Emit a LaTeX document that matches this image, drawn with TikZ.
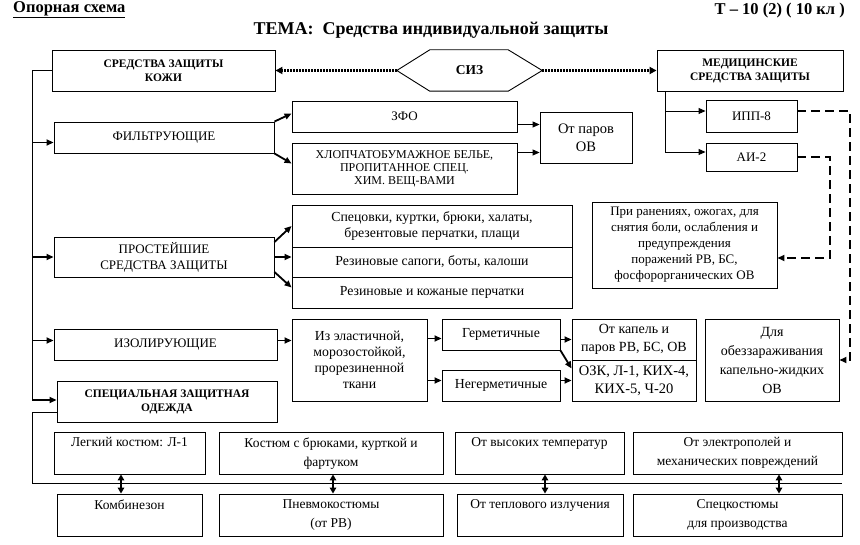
\documentclass[tikz,border=0pt]{standalone}
\usepackage{fontspec}
\setmainfont{Liberation Serif}
\usetikzlibrary{arrows.meta}
\newcommand\fs[2]{\fontsize{#1}{#2}\selectfont}
\newcommand\tp[2]{\parbox[c][31pt][t]{#1pt}{\centering #2}}
\tikzset{
  box/.style={draw, line width=0.9pt, inner sep=1pt, align=center, font=\fs{13.8}{16}},
  ubox/.style={box, font=\fs{13}{16}},
  bbox/.style={box, font=\bfseries\fs{11.5}{14}},
  lbox/.style={box, font=\fs{13.5}{19}},
  thinline/.style={line width=0.9pt},
  arr/.style={line width=1.8pt, -{Triangle[length=7pt,width=6pt]}},
  arrthin/.style={line width=0.9pt, -{Triangle[length=7pt,width=6pt]}},
  darr/.style={line width=1.8pt, {Triangle[length=6pt,width=6.5pt]}-{Triangle[length=6pt,width=6.5pt]}},
  dotarr/.style={line width=2.2pt, dash pattern=on 1.6pt off 1.4pt, -{Triangle[length=7pt,width=7pt]}},
  dasharr/.style={line width=2.4pt, dash pattern=on 9pt off 5pt, -{Triangle[length=7pt,width=6pt]}},
}
% [opts]{name}{x1}{y1}{x2}{y2}{text}
\newcommand\bx[7][]{\node[box,minimum width={#5pt-#3pt},minimum height={#6pt-#4pt},#1] (#2) at ({(#3+#5)/2},{(#4+#6)/2}) {#7};}
\begin{document}
\begin{tikzpicture}[x=1pt,y=-1pt]
\useasboundingbox (0,0) rectangle (860,545);
% titles
\node[font=\bfseries\fs{16.5}{18}, anchor=west, inner sep=0] (op) at (13,10) {\underline{Опорная схема}};
\node[font=\bfseries\fs{18}{20}, inner sep=0] (tema) at (431,30) {ТЕМА:\ \ Средства индивидуальной защиты};
\node[font=\bfseries\fs{16.5}{18}, anchor=east, inner sep=0] (t10) at (845,11) {Т – 10 (2) ( 10 кл )};

% top row
\bx[bbox]{kozhi}{52}{50}{275}{91}{СРЕДСТВА ЗАЩИТЫ\\КОЖИ}
\bx[bbox]{med}{657}{50}{843}{91}{МЕДИЦИНСКИЕ\\СРЕДСТВА ЗАЩИТЫ}
\node[minimum width=145pt, minimum height=41pt, inner sep=0, font=\bfseries\fs{13.5}{16}] (siz) at (469.5,70.5) {СИЗ};
\draw[thinline] (siz.west) -- ([xshift=33pt]siz.north west) -- ([xshift=-34pt]siz.north east) -- (siz.east) -- ([xshift=-34pt]siz.south east) -- ([xshift=33pt]siz.south west) -- cycle;
\draw[dotarr] (siz.west) -- (kozhi.east);
\draw[dotarr] (siz.east) -- (med.west);

% left column
\bx[ubox]{filt}{54}{122}{274}{153}{ФИЛЬТРУЮЩИЕ}
\bx[ubox]{prost}{54}{237}{274}{277}{ПРОСТЕЙШИЕ\\СРЕДСТВА ЗАЩИТЫ}
\bx[ubox]{izol}{54}{329}{277}{360}{ИЗОЛИРУЮЩИЕ}
\bx[bbox]{spec}{57}{381}{277}{422}{СПЕЦИАЛЬНАЯ ЗАЩИТНАЯ\\ОДЕЖДА}

% filtering
\bx[ubox]{zfo}{292}{101}{517}{132}{ЗФО}
\bx[font=\fs{12}{13}]{hlop}{292}{143}{517}{194}{ХЛОПЧАТОБУМАЖНОЕ БЕЛЬЕ,\\ПРОПИТАННОЕ СПЕЦ.\\ХИМ. ВЕЩ-ВАМИ}
\bx[font=\fs{14.5}{18}]{para}{540}{112}{632}{163}{От паров\\ОВ}

% medical
\bx[ubox]{ipp}{706}{100}{797}{132}{ИПП-8}
\bx[ubox]{ai}{706}{143}{797}{171}{АИ-2}
\bx[font=\fs{13}{16}]{pri}{592}{202}{777}{288}{При ранениях, ожогах, для\\снятия боли, ослабления и\\предупреждения\\поражений РВ, БС,\\фосфорорганических ОВ}

% simplest
\bx{simpa}{292}{205}{572}{247}{Спецовки, куртки, брюки, халаты,\\брезентовые перчатки, плащи}
\bx{simpb}{292}{247}{572}{277}{Резиновые сапоги, боты, калоши}
\bx{simpc}{292}{277}{572}{308}{Резиновые и кожаные перчатки}

% isolating
\bx{iz}{292}{319}{427}{401}{Из эластичной,\\морозостойкой,\\прорезиненной\\ткани}
\bx{germ}{442}{319}{560}{350}{Герметичные}
\bx{negerm}{442}{370}{560}{401}{Негерметичные}
\bx[font=\fs{14}{18}]{kap}{572}{319}{696}{360}{От капель и\\паров РВ, БС, ОВ}
\bx[font=\fs{14.5}{18}]{ozk}{572}{360}{696}{401}{ОЗК, Л-1, КИХ-4,\\КИХ-5, Ч-20}
\bx[font=\fs{14}{19}]{dlya}{705}{319}{839}{401}{Для\\обеззараживания\\капельно-жидких\\ОВ}

% bottom rows
\bx[lbox]{ba}{54}{432}{205}{474}{\tp{145}{Легкий костюм: Л-1}}
\bx[lbox]{bb}{219}{432}{443}{474}{\tp{218}{Костюм с брюками, курткой и\\фартуком}}
\bx[lbox]{bc}{455}{432}{624}{474}{\tp{163}{От высоких температур}}
\bx[lbox]{bd}{633}{432}{842}{474}{\tp{203}{От электрополей и\\механических повреждений}}
\bx[lbox]{ca}{57}{494}{202}{536}{\tp{140}{Комбинезон}}
\bx[lbox]{cb}{219}{494}{443}{536}{\tp{218}{Пневмокостюмы\\(от РВ)}}
\bx[lbox]{cc}{457}{494}{623}{536}{\tp{160}{От теплового излучения}}
\bx[lbox]{cd}{633}{494}{842}{536}{\tp{203}{Спецкостюмы\\для производства}}

% left trunk
\coordinate (L) at (32,400);
\draw[thinline] (kozhi.west) -| (L);
\draw[arr] ([yshift=-5pt]filt.west -| L) -- ([yshift=-5pt]filt.west);
\draw[arr] (prost.west -| L) -- (prost.west);
\draw[arr] ([yshift=4pt]izol.west -| L) -- ([yshift=4pt]izol.west);
\draw[arr] (L) -- (L -| spec.west);

% bottom frame
\coordinate (bl) at (32,483);
\coordinate (br) at (842,483);
\draw[thinline] ([yshift=-11pt]spec.west) -| (bl) -- (br);
\draw[darr] ([xshift=-8.5pt]ba.south) -- ([xshift=-8.5pt]ca.north);
\draw[darr] ([xshift=2pt]bb.south) -- ([xshift=2pt]cb.north);
\draw[darr] ([xshift=5.5pt]bc.south) -- ([xshift=5pt]cc.north);
\draw[darr] ([xshift=41.5pt]bd.south) -- ([xshift=41.5pt]cd.north);

% filtering arrows
\draw[arr] (filt.north east) -- ([yshift=3pt]zfo.west);
\draw[arr] (filt.south east) -- ([yshift=5pt]hlop.west);
\draw[arrthin] ([yshift=-8pt]zfo.east) -- ([yshift=-8pt]zfo.east -| para.west);
\draw[arrthin] ([yshift=16pt]hlop.east) -- ([yshift=16pt]hlop.east -| para.west);

% simplest arrows
\draw[arr] ([yshift=15pt]prost.east) -- (simpa.west);
\draw[arr] (prost.east) -- (prost.east -| simpb.west);
\draw[arr] ([yshift=-15pt]prost.east) -- ([yshift=5pt]simpc.west);

% isolating arrows
\draw[arr] ([yshift=4pt]izol.east) -- ([yshift=4pt]izol.east -| iz.west);
\draw[arr] ([yshift=-4pt]germ.west -| iz.east) -- ([yshift=-4pt]germ.west);
\draw[arr] ([yshift=5pt]negerm.west -| iz.east) -- ([yshift=5pt]negerm.west);
\draw[arr] (kap.west -| germ.east) -- (kap.west);
\draw[arr] (germ.south east) -- ([yshift=12pt]ozk.west);
\draw[arr] (ozk.west -| negerm.east) -- (ozk.west);

% medical arrows
\coordinate (mv) at (665,152);
\draw[thinline] (mv |- med.south) -- (mv);
\draw[arrthin] ([yshift=5pt]ipp.west -| mv) -- ([yshift=5pt]ipp.west);
\draw[arrthin] (mv) -- (mv -| ai.west);
\coordinate (dr) at (850,360);
\draw[dasharr] ([yshift=5pt]ipp.east) -| (dr) -- (dlya.east);
\coordinate (ar) at (830,258);
\draw[dasharr] (ai.east) -| (ar) -- (ar -| pri.east);
\end{tikzpicture}
\end{document}
